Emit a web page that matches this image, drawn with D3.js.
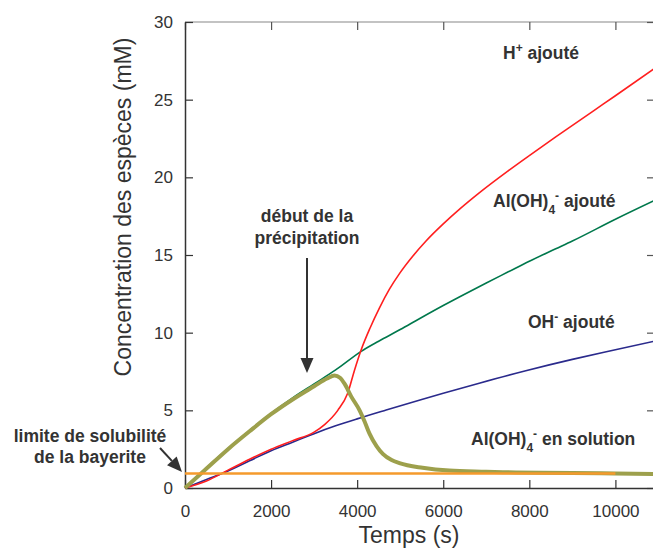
<!DOCTYPE html>
<html>
<head>
<meta charset="utf-8">
<script src="https://cdn.jsdelivr.net/npm/d3@7"></script>
<style>
  body { margin: 0; background: #fff; }
  text { font-family: "Liberation Sans", Arial, Helvetica, sans-serif; fill: #333; }
</style>
</head>
<body>
<div id="chart"></div>
<script>
// values: [time (s), concentration (mM)]
const hAdded = [[0,0],[500,0.45],[1000,1.15],[1500,1.85],[2000,2.5],[2500,3.05],[3000,3.6],[3250,4.1],[3550,5.0],[3780,6.1],[3940,7.6],[4094,8.9],[4300,10.3],[4519,11.6],[4750,12.8],[4983,13.8],[5300,14.95],[5600,15.9],[6000,17.0],[6400,18.0],[6836,19.0],[7500,20.4],[8000,21.4],[8614,22.6],[9500,24.3],[10000,25.25],[10900,27.0]];
const aluminateAdded = [[0,0],[500,1.3],[1000,2.55],[1500,3.7],[2000,4.8],[2500,5.8],[3000,6.7],[3500,7.6],[4094,8.8],[4500,9.45],[5000,10.2],[5446,10.9],[6000,11.75],[6373,12.3],[7000,13.2],[7500,13.9],[8000,14.6],[8614,15.4],[9000,15.9],[10000,17.3],[10900,18.5]];
const ohAdded = [[0,0],[500,0.55],[1000,1.1],[1500,1.75],[2000,2.4],[2500,2.95],[3000,3.5],[3500,4.0],[4000,4.45],[4674,5.02],[5500,5.7],[6000,6.1],[6836,6.75],[7918,7.55],[9000,8.28],[10000,8.9],[10900,9.45]];
const aluminateSolution = [[0,0],[500,1.25],[1000,2.5],[1500,3.65],[2000,4.75],[2500,5.7],[3000,6.55],[3300,7.05],[3475,7.25],[3600,7.1],[3710,6.7],[3860,5.9],[4056,5.0],[4170,4.3],[4287,3.5],[4450,2.7],[4596,2.2],[4800,1.8],[4983,1.6],[5520,1.3],[6141,1.12],[7000,1.05],[7687,1.0],[9000,0.97],[10000,0.93],[10900,0.9]];
const bayeriteLimit = [[0,0.93],[10000,0.93]];

const xTicks = [0, 2000, 4000, 6000, 8000, 10000];
const yTicks = [0, 5, 10, 15, 20, 25, 30];

const W = 653, H = 549;
const margin = { left: 185, right: 655, top: 22, bottom: 488 };

const svg = d3.select("#chart").append("svg")
    .attr("width", W)
    .attr("height", H);

const x = d3.scaleLinear().domain([0, 10920]).range([margin.left, margin.right]);
const y = d3.scaleLinear().domain([0, 30]).range([margin.bottom, margin.top]);

// frame: top and right in grey
svg.append("line").attr("x1", margin.left).attr("x2", margin.right).attr("y1", margin.top).attr("y2", margin.top)
    .attr("stroke", "#888").attr("stroke-width", 1.2);
svg.append("line").attr("x1", margin.right).attr("x2", margin.right).attr("y1", margin.top).attr("y2", margin.bottom)
    .attr("stroke", "#888").attr("stroke-width", 1.2);

const topAxis = svg.append("g")
    .attr("transform", `translate(0,${margin.top})`)
    .call(d3.axisTop(x).tickValues(xTicks).tickSize(-8).tickFormat(""));
const rightAxis = svg.append("g")
    .attr("transform", `translate(${margin.right},0)`)
    .call(d3.axisRight(y).tickValues(yTicks).tickSize(-8).tickFormat(""));
[topAxis, rightAxis].forEach(g => {
    g.select(".domain").remove();
    g.selectAll("line").attr("stroke", "#555").attr("stroke-width", 1.2);
});

// Add X axis
const xAxis = svg.append("g")
    .attr("transform", `translate(0,${margin.bottom})`)
    .call(d3.axisBottom(x).tickValues(xTicks).tickFormat(d3.format("d"))
        .tickSize(-8).tickPadding(17).tickSizeOuter(0));

// Add Y axis
const yAxis = svg.append("g")
    .attr("transform", `translate(${margin.left},0)`)
    .call(d3.axisLeft(y).tickValues(yTicks).tickFormat(d3.format("d"))
        .tickSize(-8).tickPadding(12).tickSizeOuter(0));

[xAxis, yAxis].forEach(g => {
    g.select(".domain").attr("stroke", "#333").attr("stroke-width", 1.5);
    g.selectAll(".tick line").attr("stroke", "#333").attr("stroke-width", 1.2);
    g.selectAll(".tick text")
        .attr("font-family", "'Liberation Sans', Arial, sans-serif")
        .attr("font-size", "17px")
        .attr("fill", "#333");
});

svg.append("text")
    .attr("x", 409)
    .attr("y", 543)
    .attr("text-anchor", "middle")
    .attr("font-size", "23px")
    .text("Temps (s)");

svg.append("text")
    .attr("transform", `translate(131,207) rotate(-90)`)
    .attr("text-anchor", "middle")
    .attr("font-size", "23px")
    .text("Concentration des espèces (mM)");

// curves
const line = d3.line()
    .x(d => x(d[0]))
    .y(d => y(d[1]))
    .curve(d3.curveMonotoneX);

const series = [
    { data: ohAdded, color: "#2a2a8c", width: 1.6 },
    { data: aluminateAdded, color: "#00784c", width: 1.6 },
    { data: hAdded, color: "#ff1f1f", width: 1.6 },
    { data: aluminateSolution, color: "#9da04c", width: 4 },
    { data: bayeriteLimit, color: "#f59a2c", width: 2.6 }
];

svg.append("g")
    .selectAll("path")
    .data(series)
    .join("path")
    .attr("d", d => line(d.data))
    .attr("fill", "none")
    .attr("stroke", d => d.color)
    .attr("stroke-width", d => d.width)
    .attr("stroke-linejoin", "round");

// labels
const fs = 17.5;
function label(px, py, parts, anchor) {
    const t = svg.append("text")
        .attr("x", px)
        .attr("y", py)
        .attr("font-size", fs + "px")
        .attr("font-weight", "bold")
        .attr("text-anchor", anchor || "start");
    parts.forEach(p => {
        const s = t.append("tspan").text(p.t);
        if (p.dy) s.attr("dy", p.dy);
        if (p.small) s.attr("font-size", "12px");
    });
    return t;
}

label(503, 59, [{ t: "H" }, { t: "+", small: true, dy: -7 }, { t: " ajouté", dy: 7 }]);
label(493, 207, [{ t: "Al(OH)" }, { t: "4", small: true, dy: 7 }, { t: "-", small: true, dy: -14 }, { t: " ajouté", dy: 7 }]);
label(528, 328, [{ t: "OH" }, { t: "-", small: true, dy: -7 }, { t: " ajouté", dy: 7 }]);
label(471, 445, [{ t: "Al(OH)" }, { t: "4", small: true, dy: 7 }, { t: "-", small: true, dy: -14 }, { t: " en solution", dy: 7 }]);

label(307, 222, [{ t: "début de la" }], "middle");
label(307, 244, [{ t: "précipitation" }], "middle");
label(90, 442, [{ t: "limite de solubilité" }], "middle");
label(90, 463, [{ t: "de la bayerite" }], "middle");

// arrows
function arrow(x1, y1, x2, y2) {
    const ang = Math.atan2(y2 - y1, x2 - x1);
    const len = 15, half = 6.5;
    const bx = x2 - len * Math.cos(ang), by = y2 - len * Math.sin(ang);
    svg.append("line")
        .attr("x1", x1).attr("y1", y1).attr("x2", bx).attr("y2", by)
        .attr("stroke", "#333").attr("stroke-width", 2);
    const pts = [
        [x2, y2],
        [bx + half * Math.sin(ang), by - half * Math.cos(ang)],
        [bx - half * Math.sin(ang), by + half * Math.cos(ang)]
    ];
    svg.append("polygon")
        .attr("points", pts.map(p => p.join(",")).join(" "))
        .attr("fill", "#333");
}
arrow(307, 258, 307, 373);
arrow(160, 448, 182, 472);
</script>
</body>
</html>
